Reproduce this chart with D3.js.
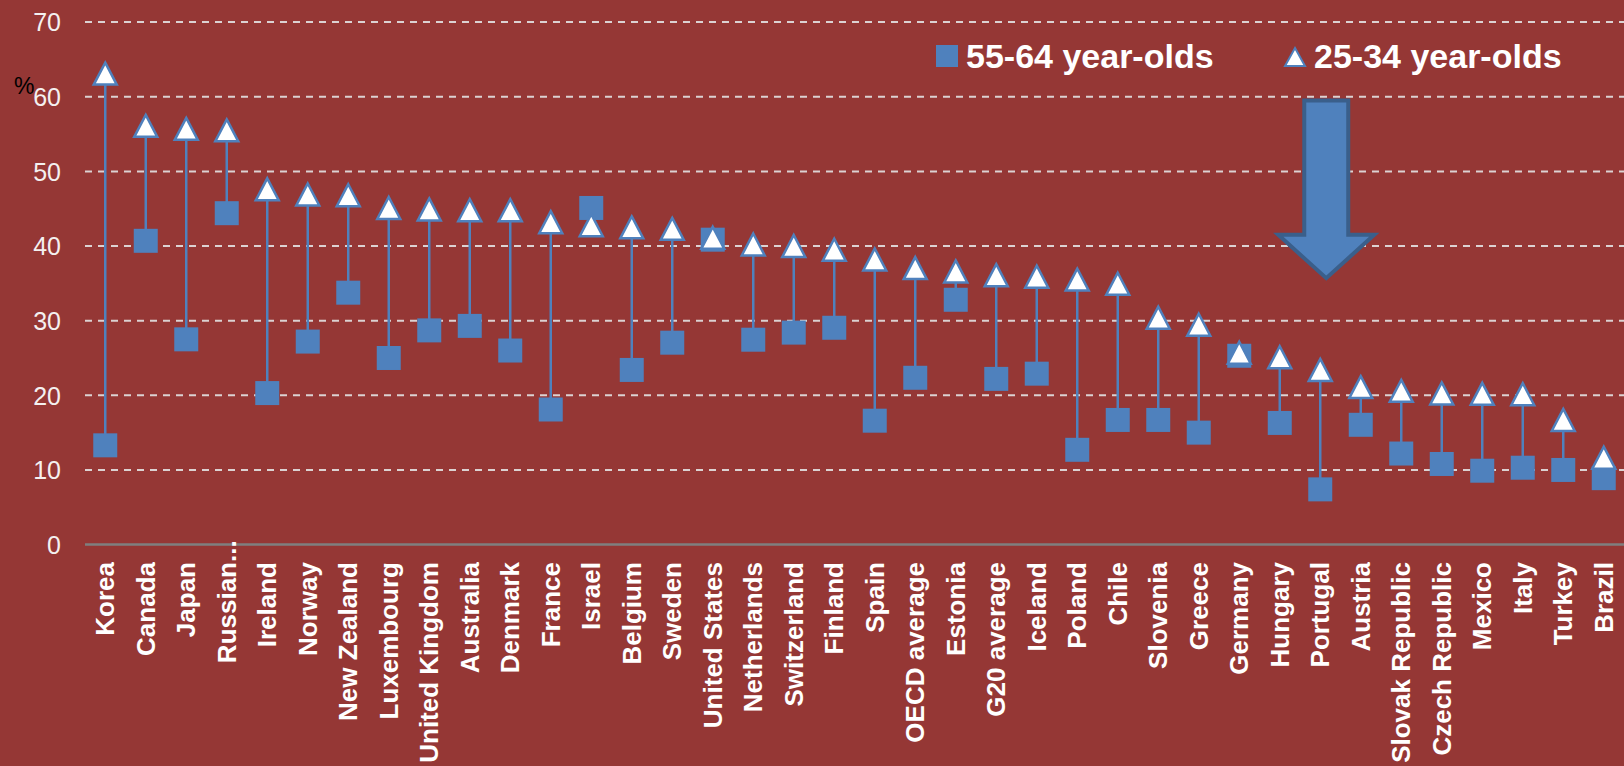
<!DOCTYPE html>
<html>
<head>
<meta charset="utf-8">
<script src="https://cdn.jsdelivr.net/npm/d3@7"></script>
<style>
  body { margin: 0; background: #953735; }
  svg { display: block; }
  text { font-family: Arial, "Liberation Sans", sans-serif; }
</style>
</head>
<body>
<script>
// data
var categories = ['Korea', 'Canada', 'Japan', 'Russian...', 'Ireland', 'Norway', 'New Zealand', 'Luxembourg',
    'United Kingdom', 'Australia', 'Denmark', 'France', 'Israel', 'Belgium', 'Sweden', 'United States',
    'Netherlands', 'Switzerland', 'Finland', 'Spain', 'OECD average', 'Estonia', 'G20 average', 'Iceland',
    'Poland', 'Chile', 'Slovenia', 'Greece', 'Germany', 'Hungary', 'Portugal', 'Austria', 'Slovak Republic',
    'Czech Republic', 'Mexico', 'Italy', 'Turkey', 'Brazil'];
var young = [63.1, 56.1, 55.7, 55.5, 47.6, 46.9, 46.8, 45.1, 44.9, 44.8, 44.8, 43.2, 42.8, 42.5, 42.3, 41.1,
    40.2, 40.0, 39.5, 38.2, 37.05, 36.6, 36.1, 35.9, 35.5, 34.95, 30.4, 29.45, 25.7, 25.1, 23.4, 21.1, 20.6,
    20.25, 20.2, 20.15, 16.7, 11.65];
var old = [13.3, 40.7, 27.5, 44.4, 20.3, 27.2, 33.75, 25.0, 28.7, 29.3, 26.0, 18.1, 45.1, 23.4, 27.05, 40.85,
    27.45, 28.4, 29.05, 16.6, 22.35, 32.8, 22.2, 22.9, 12.7, 16.7, 16.7, 15.0, 25.3, 16.3, 7.4, 16.05, 12.2,
    10.8, 9.9, 10.3, 10.0, 8.9];
var yTicks = [0, 10, 20, 30, 40, 50, 60, 70];
var legendLabels = ['55-64 year-olds', '25-34 year-olds'];
var arrowTarget = 'Portugal';

var width = 1624, height = 766;
var blue = '#4f81bd';

var svg = d3.select('body').append('svg')
    .attr('width', width)
    .attr('height', height);

svg.append('rect').attr('width', width).attr('height', height).attr('fill', '#953735');

var x = d3.scaleBand().domain(categories).range([85, 1624]).padding(0);
var y = d3.scaleLinear().domain([0, 70]).range([544.6, 22.1]);
function cx(d) { return x(d) + x.bandwidth() / 2; }

// gridlines
svg.append('g').selectAll('line')
    .data(yTicks.filter(function (t) { return t > 0; }))
    .enter().append('line')
    .attr('x1', 85).attr('x2', width)
    .attr('y1', function (d) { return y(d); })
    .attr('y2', function (d) { return y(d); })
    .attr('stroke', '#dcd2d2')
    .attr('stroke-width', 2)
    .attr('stroke-dasharray', '7,6');

// zero line
svg.append('line')
    .attr('x1', 85).attr('x2', width)
    .attr('y1', y(0)).attr('y2', y(0))
    .attr('stroke', '#7f7f7f')
    .attr('stroke-width', 2.5);

// y axis labels
var yAxis = d3.axisLeft(y).tickValues(yTicks).tickSize(0).tickPadding(0);
var gy = svg.append('g').attr('transform', 'translate(61,0)').call(yAxis);
gy.select('.domain').remove();
gy.selectAll('text')
    .attr('fill', '#f4f0f0')
    .style('font-size', '25px')
    .attr('dy', '0.35em');

svg.append('text')
    .attr('x', 14).attr('y', 94)
    .attr('fill', '#000')
    .style('font-size', '23px')
    .text('%');

// x axis labels
var xAxis = d3.axisBottom(x).tickSize(0).tickPadding(0);
var gx = svg.append('g').attr('transform', 'translate(0,562)').call(xAxis);
gx.select('.domain').remove();
gx.selectAll('text')
    .attr('fill', '#fff')
    .style('font-size', '26px')
    .style('font-weight', 'bold')
    .attr('text-anchor', 'end')
    .attr('transform', 'rotate(-90)')
    .attr('x', 0).attr('y', 0)
    .attr('dy', '0.35em')
    .each(function (d) {
        // truncated names: let the dots run past the top of the column
        if (d.slice(-3) === '...') {
            var n = this.getNumberOfChars();
            d3.select(this).attr('x', this.getSubStringLength(n - 3, 3));
        }
    });

// connectors
svg.append('g').selectAll('line')
    .data(categories)
    .enter().append('line')
    .attr('x1', cx).attr('x2', cx)
    .attr('y1', function (d, i) { return y(old[i]); })
    .attr('y2', function (d, i) { return y(young[i]); })
    .attr('stroke', blue)
    .attr('stroke-width', 2.5);

// 55-64 squares
svg.append('g').selectAll('rect')
    .data(categories)
    .enter().append('rect')
    .attr('x', function (d) { return cx(d) - 12; })
    .attr('y', function (d, i) { return y(old[i]) - 12; })
    .attr('width', 24).attr('height', 24)
    .attr('fill', blue);

// 25-34 triangles
var tri = 'M0,-11 L11.5,11 L-11.5,11 Z';
svg.append('g').selectAll('path')
    .data(categories)
    .enter().append('path')
    .attr('d', tri)
    .attr('transform', function (d, i) { return 'translate(' + cx(d) + ',' + y(young[i]) + ')'; })
    .attr('fill', '#fff')
    .attr('stroke', blue)
    .attr('stroke-width', 2.5)
    .attr('stroke-linejoin', 'miter');

// legend
var lg = svg.append('g');
lg.append('rect').attr('x', 936).attr('y', 45).attr('width', 22).attr('height', 22).attr('fill', blue);
lg.append('text').attr('x', 966).attr('y', 68)
    .attr('fill', '#fff').style('font-size', '34px').style('font-weight', 'bold')
    .text(legendLabels[0]);
lg.append('path').attr('d', 'M0,-9 L10,9 L-10,9 Z')
    .attr('transform', 'translate(1295,57)')
    .attr('fill', '#fff').attr('stroke', blue).attr('stroke-width', 2);
lg.append('text').attr('x', 1314).attr('y', 68)
    .attr('fill', '#fff').style('font-size', '34px').style('font-weight', 'bold')
    .text(legendLabels[1]);

// arrow pointing at the target country
var ax = cx(arrowTarget) + 6;
var aTop = y(59.5), aWing = y(41.5), aTip = y(35.7);
svg.append('path')
    .attr('d', 'M' + (ax - 22) + ',' + aTop + ' L' + (ax + 22) + ',' + aTop +
        ' L' + (ax + 22) + ',' + aWing + ' L' + (ax + 48) + ',' + aWing +
        ' L' + ax + ',' + aTip + ' L' + (ax - 48) + ',' + aWing +
        ' L' + (ax - 22) + ',' + aWing + ' Z')
    .attr('fill', blue)
    .attr('stroke', '#3a5f8b')
    .attr('stroke-width', 4);
</script>
</body>
</html>
